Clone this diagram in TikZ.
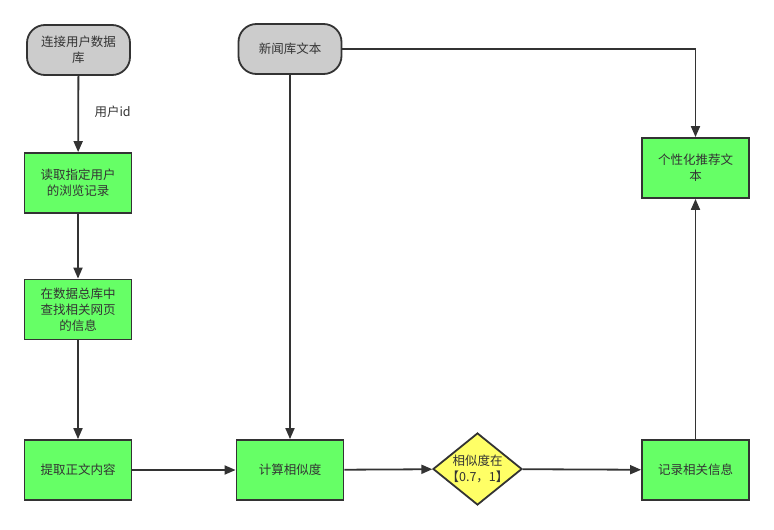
\documentclass[tikz,border=0pt]{standalone}
\usepackage{fontspec}
\setmainfont{Noto Sans CJK SC}
\usetikzlibrary{arrows.meta,shapes.geometric}
\definecolor{strk}{HTML}{333333}
\definecolor{gfill}{HTML}{66FF66}
\definecolor{yfill}{HTML}{FFFF66}
\definecolor{tfill}{HTML}{CCCCCC}
\begin{document}
\begin{tikzpicture}[x=1pt,y=-1pt,
  base/.style={draw=strk,line width=1.8pt,text=strk,font=\fontsize{12.5}{16}\selectfont,align=center,inner sep=0pt},
  term/.style={base,fill=tfill,rounded corners=18pt,minimum width=103pt,minimum height=50pt},
  proc/.style={base,fill=gfill,minimum width=107pt,minimum height=60pt},
  deci/.style={base,fill=yfill,diamond,minimum width=89pt,minimum height=72pt,aspect=1.24},
  conn/.style={draw=strk,line width=1.8pt,-{Triangle[length=11pt,width=9pt]}}]
\useasboundingbox (0,0) rectangle (774,530);
\node[term] (db) at (78.5,50) {连接用户数据\\库};
\node[proc] (read) at (78,183) {读取指定用户\\的浏览记录};
\node[proc] (find) at (78,309.5) {在数据总库中\\查找相关网页\\的信息};
\node[proc] (extract) at (78,470) {提取正文内容};
\node[term] (news) at (290,49) {新闻库文本};
\node[proc] (sim) at (290,470) {计算相似度};
\node[deci] (dec) at (477.5,469) {};
\node[text=strk,font=\fontsize{12.5}{16}\selectfont,align=center,inner sep=0pt] (dect) at (dec.center) {相似度在\\【0.7，1】};
\node[proc] (rec) at (695.5,470) {记录相关信息};
\node[proc] (rec2) at (695.5,168) {个性化推荐文\\本};
\node[text=strk,font=\fontsize{12.5}{15}\selectfont,anchor=west] (lbl) at (91,112) {用户id};
\draw[conn] (db) -- (read);
\draw[conn] (read) -- (find);
\draw[conn] (find) -- (extract);
\draw[conn] (extract) -- (sim);
\draw[conn] (news) -- (sim);
\draw[conn] (sim) -- (dec);
\draw[conn] (dec) -- (rec);
\draw[conn] (rec) -- (rec2);
\draw[conn] (news.east) -| (rec2.north);
\end{tikzpicture}
\end{document}
